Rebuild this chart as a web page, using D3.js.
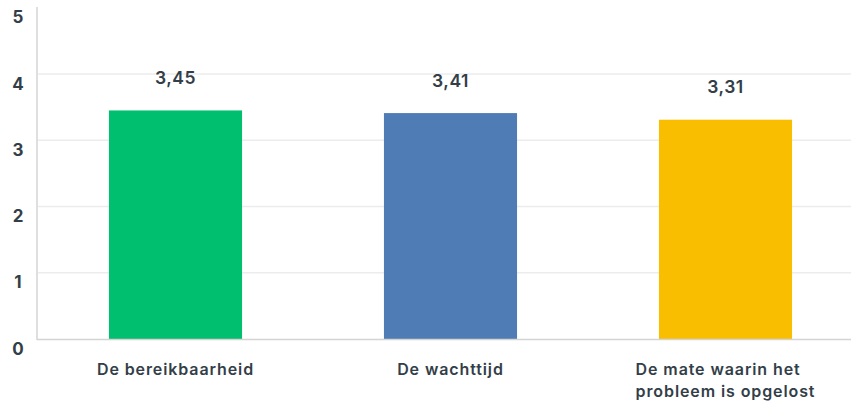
<!DOCTYPE html>
<html><head><meta charset="utf-8">
<script src="https://cdn.jsdelivr.net/npm/d3@7"></script>
<style>body{margin:0;background:#fff}svg{display:block}text{font-family:Inter,"Open Sans",sans-serif;fill:#333e48}</style>
</head><body><svg id="c" width="851" height="405"></svg>
<script>
const categories = [["De bereikbaarheid"],["De wachttijd"],["De mate waarin het","probleem is opgelost"]];
const values = [3.45, 3.41, 3.31];
const valueLabels = ["3,45","3,41","3,31"];
const colors = ["#00bf6f","#507cb6","#f9be00"];
const yTicks = [0,1,2,3,4,5];

const svg = d3.select("#c");
const x = d3.scaleBand().domain(d3.range(categories.length)).range([38,863]).paddingInner(0.516).paddingOuter(0.258);
const y = d3.scaleLinear().domain([0,5]).range([339,7.75]);

svg.append("g").selectAll("line").data(yTicks.filter(t=>t>0&&t<5)).join("line")
  .attr("x1",38).attr("x2",851).attr("y1",d=>y(d)).attr("y2",d=>y(d))
  .attr("stroke","#ececec").attr("stroke-width",1.5);

svg.append("g").selectAll("rect").data(values).join("rect")
  .attr("x",(d,i)=>x(i)).attr("width",x.bandwidth())
  .attr("y",d=>y(d)).attr("height",d=>y(0)-y(d))
  .attr("fill",(d,i)=>colors[i]);

svg.append("line").attr("x1",37).attr("x2",37).attr("y1",7).attr("y2",340).attr("stroke","#d4d4d4").attr("stroke-width",1.5);
svg.append("line").attr("x1",37).attr("x2",851).attr("y1",339.5).attr("y2",339.5).attr("stroke","#d4d4d4").attr("stroke-width",1.5);

svg.append("g").selectAll("text").data(yTicks).join("text")
  .attr("x",18).attr("y",d=>y(d)+15.5).attr("text-anchor","middle")
  .attr("font-size",17).attr("font-weight",700).text(d=>d);

svg.append("g").selectAll("text").data(values).join("text")
  .attr("x",(d,i)=>x(i)+x.bandwidth()/2).attr("y",d=>y(d)-26.5)
  .attr("text-anchor","middle").attr("font-size",17.5).attr("font-weight",600)
  .attr("letter-spacing",0.5)
  .text((d,i)=>valueLabels[i]);

const cg = svg.append("g");
categories.forEach((lines,i)=>{
  const cx = x(i)+x.bandwidth()/2;
  const t = cg.append("text").attr("font-size",16).attr("font-weight",600).attr("letter-spacing",0.9);
  const spans = lines.map((l,j)=>t.append("tspan").attr("y",374.5+j*22).text(l));
  let w = 0; spans.forEach(s=>{w=Math.max(w,s.node().getComputedTextLength());});
  spans.forEach(s=>s.attr("x",cx-w/2));
});
</script></body></html>
